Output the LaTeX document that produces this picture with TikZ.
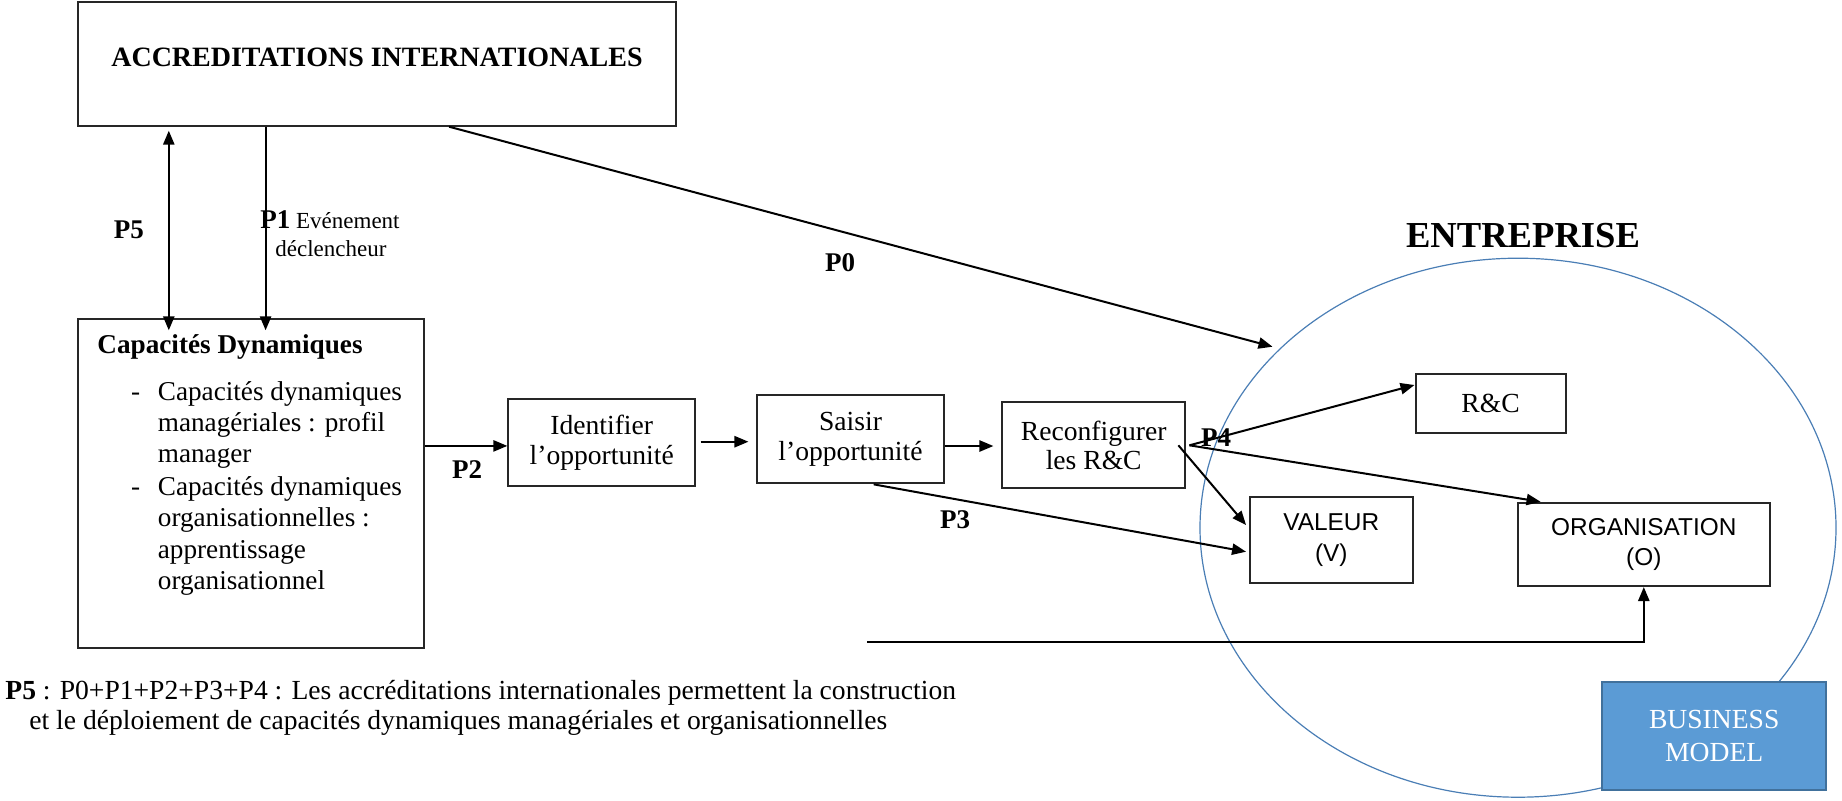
\documentclass[tikz,border=0pt]{standalone}
\usepackage{fontspec}
\setmainfont{Liberation Serif}
\newfontfamily\sansf{Liberation Sans}
\usetikzlibrary{arrows.meta,shapes.geometric,calc}
\definecolor{entblue}{HTML}{4A7EB5}
\definecolor{bmfill}{HTML}{5B9BD5}
\definecolor{bmdraw}{HTML}{41719C}
\definecolor{boxgray}{HTML}{262626}
\newcommand{\fs}[1]{\fontsize{#1}{#1}\selectfont}
\begin{document}
\begin{tikzpicture}[x=0.5pt,y=-0.5pt,
  box/.style={draw=boxgray,line width=1pt,inner sep=0pt,align=center,font=\fs{13.8}},
  arr/.style={line width=1pt,-{Triangle[length=7pt,width=5.6pt]}},
  darr/.style={line width=1pt,{Triangle[length=7pt,width=5.6pt]}-{Triangle[length=7pt,width=5.6pt]}},
  plab/.style={font=\bfseries\fs{13.5},inner sep=0pt},
  txt/.style={font=\fs{13.6},inner sep=0pt,anchor=base west}]
\useasboundingbox (0,0) rectangle (1842,800);

% Enterprise ellipse
\node[ellipse,draw=entblue,line width=0.6pt,minimum width=318pt,minimum height=269.5pt,inner sep=0pt] (ent) at (1518,527.7) {};
\node[font=\bfseries\fs{18.3},inner sep=0pt] (enttitle) at (1523,236) {ENTREPRISE};

% Boxes
\node[box,minimum width=299.3pt,minimum height=62pt,text depth=6pt,font=\bfseries\fs{14}] (acc) at (377,63.7) {ACCREDITATIONS INTERNATIONALES};
\node[box,minimum width=173.1pt,minimum height=164.5pt] (cap) at (250.9,483.8) {};
\node[box,minimum width=93.35pt,minimum height=43.2pt] (id) at (601.7,442.5) {Identifier\\[1pt]l’opportunité};
\node[box,minimum width=93.45pt,minimum height=44.15pt] (sai) at (850.5,439.2) {Saisir\\[1pt]l’opportunité};
\node[box,minimum width=91.7pt,minimum height=43pt] (rec) at (1093.7,445.3) {Reconfigurer\\[1pt]les R\&C};
\node[box,minimum width=75.1pt,minimum height=29.65pt] (rc) at (1490.6,403.7) {R\&C};
\node[box,minimum width=81.25pt,minimum height=43.3pt,font=\sansf\fs{12.2}] (val) at (1331.3,540) {VALEUR\\[3pt](V)};
\node[box,minimum width=126.25pt,minimum height=41.65pt,font=\sansf\fs{12.2}] (org) at (1643.8,544.4) {ORGANISATION\\[3pt](O)};
\node[box,draw=bmdraw,fill=bmfill,text=white,minimum width=111.85pt,minimum height=54.15pt] (bm) at (1714.2,735.9) {BUSINESS\\[3pt]MODEL};

% Capacites text
\node[txt,font=\bfseries\fs{13.6}] (captitle) at (97,353) {Capacités Dynamiques};
\node[txt] (d1) at (130.7,400) {-};
\node[txt] (c1a) at (157.5,400) {Capacités dynamiques};
\node[txt] (c1b) at (157.5,431.5) {managériales : profil};
\node[txt] (c1c) at (157.5,462) {manager};
\node[txt] (d2) at (130.7,495) {-};
\node[txt] (c2a) at (157.5,495) {Capacités dynamiques};
\node[txt] (c2b) at (157.5,526.5) {organisationnelles :};
\node[txt] (c2c) at (157.5,558) {apprentissage};
\node[txt] (c2d) at (157.5,589.5) {organisationnel};

% helper coordinates
\coordinate (p5x) at (168.8,0);
\coordinate (p1x) at (265.6,0);
\coordinate (p0end) at (1272.5,346.7);
\coordinate (fbstart) at (867,641.7);

% Connectors
\draw[darr] ([yshift=-2pt]acc.south -| p5x) -- ([yshift=-6pt]cap.north -| p5x);
\draw[arr] (acc.south -| p1x) -- ([yshift=-6pt]cap.north -| p1x);
\draw[arr] ($(acc.south west)!0.62!(acc.south east)$) -- (p0end);
\draw[arr] ([yshift=-1.7pt]cap.east |- id.west) -- ([yshift=-1.7pt]id.west);
\draw[arr] ([xshift=2.3pt,yshift=0.4pt]id.east) -- ([xshift=-3.8pt,yshift=0.4pt]id.east -| sai.west);
\draw[arr] ([yshift=-3.4pt]sai.east) -- ([xshift=-3.8pt,yshift=-3.4pt]sai.east -| rec.west);
\draw[arr] ([xshift=11.6pt]sai.south) -- ([xshift=-1.5pt,yshift=-5.85pt]val.west);
\draw[arr] ([xshift=1.5pt]rec.east) -- ([yshift=9.35pt]rc.west);
\draw[arr] ([xshift=1.5pt]rec.east) -- ([xshift=12pt]org.north west);
\draw[arr] ([xshift=-4pt]rec.east) -- ([xshift=-1.5pt,yshift=7.5pt]val.west);
\draw[arr] (fbstart) -| (org.south);

% Labels
\node[plab] (lp5) at (128.8,230) {P5};
\node[txt,font=\fs{11.5}] (lp1) at (260,228) {\textbf{\fs{13.5}P1} Evénement};
\node[txt,font=\fs{11.5}] (lp1b) at (275,256) {déclencheur};
\node[plab] (lp0) at (840,263) {P0};
\node[plab] (lp2) at (467,470) {P2};
\node[plab] (lp3) at (955,520) {P3};
\node[plab] (lp4) at (1216,438) {P4};

% Footnote
\node[txt,font=\fs{13.8}] (fn1) at (5,699.5) {\textbf{P5} : P0+P1+P2+P3+P4 : Les accréditations internationales permettent la construction};
\node[txt,font=\fs{13.8}] (fn2) at (29,729.5) {et le déploiement de capacités dynamiques managériales et organisationnelles};
\end{tikzpicture}
\end{document}
